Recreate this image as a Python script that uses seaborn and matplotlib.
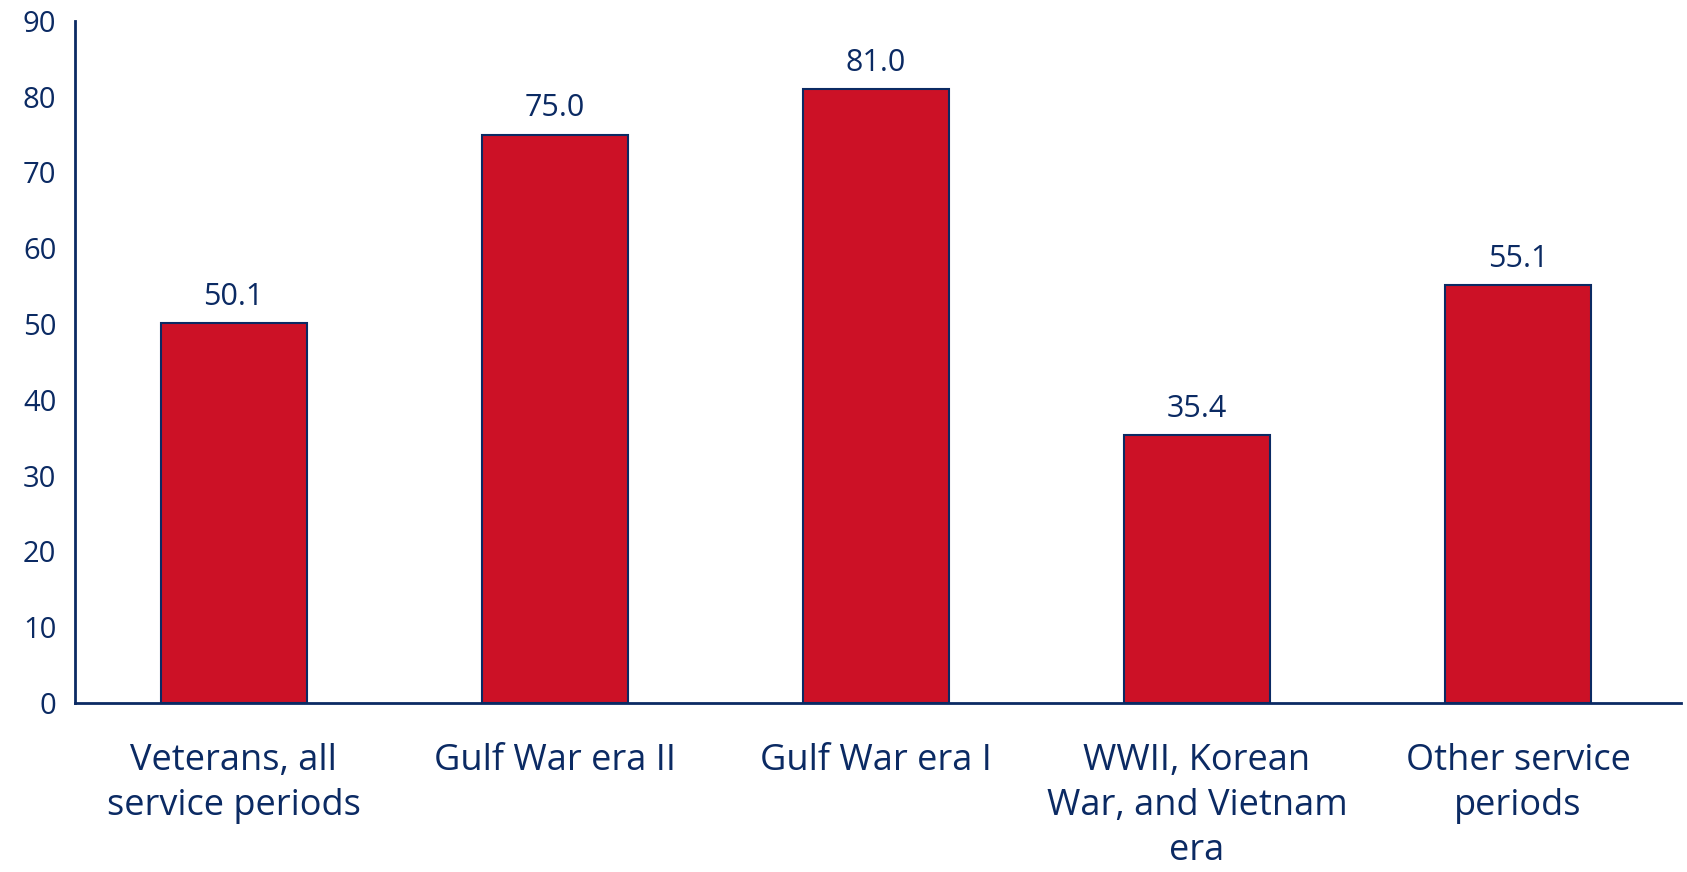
import pandas as pd
import matplotlib
matplotlib.use('Agg')
import matplotlib.pyplot as plt
import seaborn as sns

# data
categories = ['Veterans, all\nservice periods', 'Gulf War era II', 'Gulf War era I',
              'WWII, Korean\nWar, and Vietnam\nera', 'Other service\nperiods']
values = [50.1, 75.0, 81.0, 35.4, 55.1]
y_ticks = [0, 10, 20, 30, 40, 50, 60, 70, 80, 90]

navy = '#0b2a63'
red = '#cc1126'

sns.set_style('white')
plt.rcParams['font.family'] = ['Open Sans', 'DejaVu Sans']

df = pd.DataFrame({'category': categories, 'value': values})

fig = plt.figure(figsize=(16.87, 8.72), dpi=100)
ax = fig.add_axes([0.0445, 0.194, 0.952, 0.782])
sns.barplot(data=df, x='category', y='value', color=red, width=0.455,
            edgecolor=navy, linewidth=1.5, saturation=1, ax=ax)

for c in ax.containers:
    ax.bar_label(c, fmt='%.1f', padding=8, fontsize=22, color=navy)

ax.set_ylim(0, 90)
ax.set_xlim(-0.494, 4.508)
ax.set_yticks(y_ticks)
ax.set_xlabel('')
ax.set_ylabel('')
sns.despine(ax=ax)
for s in ['left', 'bottom']:
    ax.spines[s].set_color(navy)
    ax.spines[s].set_linewidth(2)
ax.tick_params(axis='y', direction='inout', length=15, width=2, color=navy,
               labelsize=21, labelcolor=navy, pad=6)
ax.tick_params(axis='x', length=0, labelsize=26, labelcolor=navy, pad=29)
for lbl in ax.get_xticklabels():
    lbl.set_verticalalignment('top')
    lbl.set_linespacing(1.34)

fig.savefig('out.png', dpi=100)
